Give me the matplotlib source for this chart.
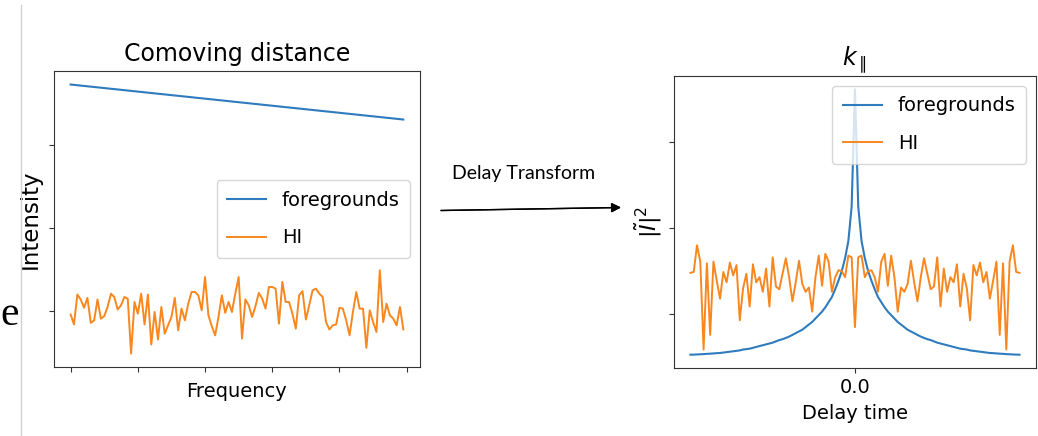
import matplotlib.pyplot as plt
from matplotlib.lines import Line2D

# Left panel: signal along comoving distance
freq_index = list(range(100))
foreground_freq = [0, 99]
foreground_intensity = [2.72, 2.30]
hi_intensity = [
    -0.04, -0.16, 0.20, 0.14, 0.04, 0.16, -0.14, -0.11, 0.14, -0.09,
    -0.06, 0.05, 0.21, 0.17, 0.02, 0.07, 0.17, 0.15, -0.51, 0.11,
    -0.03, 0.21, -0.16, 0.20, -0.40, -0.01, -0.34, 0.05, -0.27, -0.17,
    -0.07, 0.16, -0.23, 0.03, -0.11, 0.09, 0.23, 0.23, 0.19, 0.01,
    0.41, -0.05, -0.18, -0.29, -0.07, 0.19, -0.02, 0.11, -0.01, 0.21,
    0.41, -0.33, 0.14, 0.07, -0.07, 0.06, 0.22, 0.15, 0.03, 0.29,
    0.29, 0.27, -0.15, 0.35, 0.11, 0.11, -0.03, -0.21, 0.19, 0.24,
    -0.10, 0.07, 0.25, 0.27, 0.21, 0.17, -0.13, -0.22, -0.17, -0.16,
    0.04, 0.03, -0.11, -0.29, -0.01, 0.23, 0.03, 0.03, -0.44, 0.01,
    -0.13, -0.25, 0.49, -0.13, 0.09, -0.05, -0.09, -0.17, 0.05, -0.22,
]

# Right panel: delay power spectrum
delay = list(range(-50, 51))
fg_power = [
    -0.470, -0.469, -0.467, -0.465, -0.463, -0.460, -0.458, -0.455, -0.452, -0.450,
    -0.445, -0.440, -0.435, -0.430, -0.425, -0.420, -0.410, -0.405, -0.400, -0.390,
    -0.380, -0.370, -0.360, -0.350, -0.340, -0.330, -0.315, -0.300, -0.290, -0.275,
    -0.260, -0.240, -0.220, -0.200, -0.180, -0.150, -0.120, -0.090, -0.050, -0.010,
    0.030, 0.080, 0.140, 0.200, 0.290, 0.390, 0.500, 0.650, 0.850, 1.250,
    2.610,
    1.250, 0.850, 0.650, 0.500, 0.390, 0.290, 0.200, 0.140, 0.080, 0.030,
    -0.010, -0.050, -0.090, -0.120, -0.150, -0.180, -0.200, -0.220, -0.240, -0.260,
    -0.275, -0.290, -0.300, -0.315, -0.330, -0.340, -0.350, -0.360, -0.370, -0.380,
    -0.390, -0.400, -0.405, -0.410, -0.420, -0.425, -0.430, -0.435, -0.440, -0.445,
    -0.450, -0.452, -0.455, -0.458, -0.460, -0.463, -0.465, -0.467, -0.469, -0.470,
]
hi_power = [
    0.48, 0.49, 0.80, 0.61, -0.41, 0.59, -0.24, 0.61, 0.39, 0.18,
    0.49, 0.37, 0.60, 0.45, 0.57, -0.07, 0.30, 0.47, 0.09, 0.58,
    0.37, 0.43, 0.26, 0.53, 0.09, 0.66, 0.32, 0.29, 0.47, 0.65,
    0.43, 0.15, 0.37, 0.62, 0.35, 0.26, 0.31, 0.03, 0.43, 0.68,
    0.33, 0.70, 0.61, 0.26, 0.43, 0.51, 0.50, 0.43, 0.68, 0.66,
    -0.15,
    0.66, 0.68, 0.43, 0.50, 0.51, 0.43, 0.26, 0.61, 0.70, 0.33,
    0.68, 0.43, 0.03, 0.31, 0.26, 0.35, 0.62, 0.37, 0.15, 0.43,
    0.65, 0.47, 0.29, 0.32, 0.66, 0.09, 0.53, 0.26, 0.43, 0.37,
    0.58, 0.09, 0.47, 0.30, -0.07, 0.57, 0.45, 0.60, 0.37, 0.49,
    0.18, 0.39, 0.61, -0.24, 0.59, -0.41, 0.61, 0.80, 0.49, 0.48,
]

plt.rcParams["axes.edgecolor"] = "#333333"
plt.rcParams["xtick.color"] = "#333333"
plt.rcParams["ytick.color"] = "#333333"
plt.rcParams["xtick.labelcolor"] = "black"

fig = plt.figure(figsize=(10.38, 4.36), dpi=100)

# Left plot
ax1 = fig.add_axes([0.052, 0.158, 0.3526, 0.679])
ax1.plot(foreground_freq, foreground_intensity, color="#2f7bbd", lw=1.5, label="foregrounds")
ax1.plot(freq_index, hi_intensity, color="#f8871f", lw=1.4, label="HI")
ax1.set_xlim(-4.95, 103.95)
ax1.set_xticks([0, 20, 40, 60, 80, 100])
ax1.set_xticklabels([])
ax1.set_yticks([0, 1, 2])
ax1.set_yticklabels([])
ax1.set_xlabel("Frequency", fontsize=14)
ax1.set_ylabel("Intensity", fontsize=16.5, labelpad=2)
ax1.set_title("Comoving distance", fontsize=17, pad=7)
ax1.legend(loc="center right", fontsize=14, labelspacing=0.95, borderpad=0.55)

# Right plot
ax2 = fig.add_axes([0.6493, 0.156, 0.3487, 0.6697])
ax2.plot(delay, fg_power, color="#2f7bbd", lw=1.5, label="foregrounds")
ax2.plot(delay, hi_power, color="#f8871f", lw=1.4, label="HI")
ax2.set_xticks([0])
ax2.set_xticklabels(["0.0"], fontsize=14)
ax2.set_yticks([0, 1, 2])
ax2.set_yticklabels([])
ax2.set_xlabel("Delay time", fontsize=14, labelpad=5)
ax2.set_ylabel(r"$|\tilde{I}|^2$", fontsize=16, labelpad=0)
ax2.set_title(r"$k_\parallel$", fontsize=17)
ax2.legend(loc="upper right", fontsize=14, labelspacing=0.95, borderpad=0.55)

# Arrow between the panels
fig.text(452 / 1038, 1 - 173 / 436, "Delay Transform", family="Lato", fontsize=14,
         ha="left", va="center")
fig.add_artist(plt.annotate("", xy=(621 / 1038, 1 - 207.5 / 436), xycoords="figure fraction",
                            xytext=(441 / 1038, 1 - 210.5 / 436), textcoords="figure fraction",
                            arrowprops=dict(arrowstyle="-|>", color="black", lw=1.0,
                                            mutation_scale=14, shrinkA=0, shrinkB=0)))

# Leftover slide bits at the left edge
fig.add_artist(Line2D([20.7 / 1038, 20.7 / 1038], [0, 1 - 5 / 436], transform=fig.transFigure,
                      color="#d0d0d0", lw=1.0))
fig.text(0.5 / 1038, 1 - 325 / 436, "e", family="Liberation Serif", fontsize=30,
         ha="left", va="baseline")

plt.savefig("out.png", dpi=100)
